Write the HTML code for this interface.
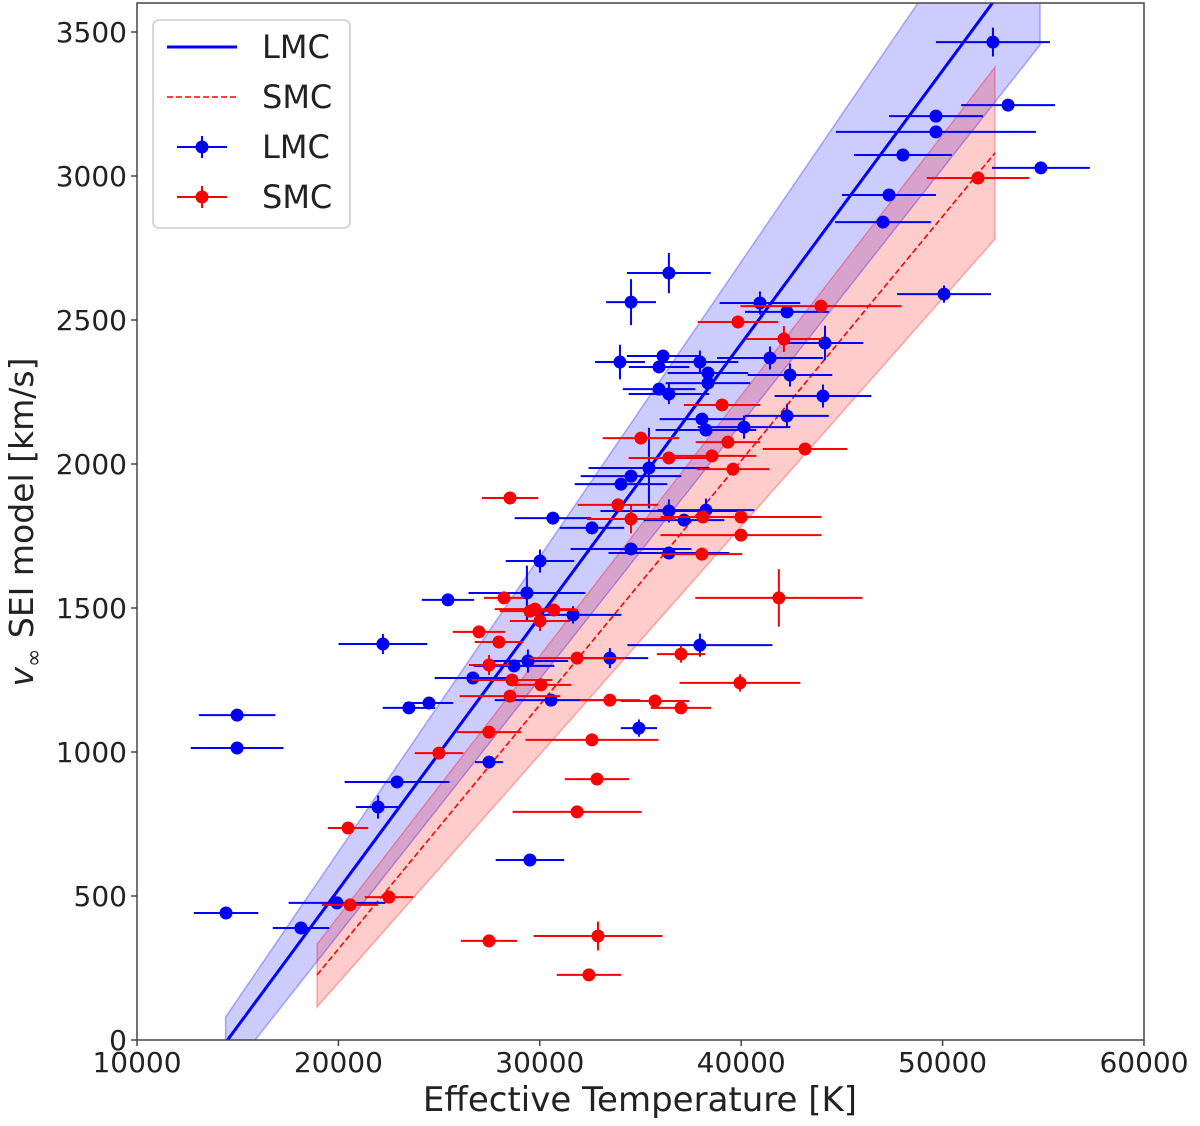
<!DOCTYPE html>
<html><head><meta charset="utf-8"><style>
body{margin:0;background:#fff;}
svg text{font-family:"DejaVu Sans","Liberation Sans",sans-serif;}
</style></head><body>
<svg id="chart" width="1200" height="1121" viewBox="0 0 1200 1121" xmlns="http://www.w3.org/2000/svg">
<defs><clipPath id="plotclip"><rect x="137" y="3" width="1007" height="1037"/></clipPath></defs>
<g id="bands" clip-path="url(#plotclip)"></g>
<g id="lines" clip-path="url(#plotclip)"></g>
<g id="points" clip-path="url(#plotclip)"></g>
<rect x="137" y="3" width="1007" height="1037" fill="none" stroke="#444" stroke-width="1.5"/>
<g id="axes"></g>
<text x="640" y="1111" font-size="34" text-anchor="middle" fill="#222">Effective Temperature [K]</text>
<text transform="translate(33,522) rotate(-90)" font-size="33" text-anchor="middle" fill="#222"><tspan font-style="italic">v</tspan><tspan font-size="22" dy="8">∞</tspan><tspan dy="-8"> SEI model [km/s]</tspan></text>
<g>
<rect x="153" y="20" width="197" height="208" rx="6" fill="#fff" fill-opacity="0.85" stroke="#ccc" stroke-width="1.5"/>
<line x1="167" y1="47" x2="237" y2="47" stroke="#0000ff" stroke-width="3"/>
<text x="262" y="58" font-size="32" fill="#222">LMC</text>
<line x1="167" y1="97" x2="237" y2="97" stroke="#ff0000" stroke-width="1.6" stroke-dasharray="6,3"/>
<text x="262" y="108" font-size="32" fill="#222">SMC</text>
<line x1="177" y1="147" x2="227" y2="147" stroke="#0000ff" stroke-width="2"/><line x1="202" y1="136" x2="202" y2="158" stroke="#0000ff" stroke-width="2"/><circle cx="202" cy="147" r="6.5" fill="#0000ff"/>
<text x="262" y="158" font-size="32" fill="#222">LMC</text>
<line x1="177" y1="197" x2="227" y2="197" stroke="#ff0000" stroke-width="2"/><line x1="202" y1="186" x2="202" y2="208" stroke="#ff0000" stroke-width="2"/><circle cx="202" cy="197" r="6.5" fill="#ff0000"/>
<text x="262" y="208" font-size="32" fill="#222">SMC</text>
</g>
</svg>
<script>
const xTicks = [10000, 20000, 30000, 40000, 50000, 60000];
const yTicks = [0, 500, 1000, 1500, 2000, 2500, 3000, 3500];
const lmcT = [52500,53250,49670,49670,48030,47340,47040,54880,50070,36410,34530,40930,42270,44160,41430,33980,36120,35920,37950,38350,38350,42420,35920,36410,44060,42270,38050,38250,40140,35420,34530,34030,36410,38250,37160,34530,36410,30010,30650,32590,29360,25440,31650,22210,33480,29410,28720,26680,30560,24500,23500,14970,14970,34920,37950,27480,22910,21970,29510,19930,14420,18140];
const lmcV = [3465,3246,3208,3153,3073,2934,2840,3028,2590,2663,2562,2559,2528,2420,2368,2354,2375,2337,2354,2316,2281,2309,2260,2243,2236,2167,2156,2118,2128,1986,1958,1930,1837,1840,1805,1705,1691,1663,1812,1778,1552,1528,1476,1375,1326,1316,1299,1257,1180,1170,1153,1128,1014,1083,1371,965,896,809,625,476,441,389];
const lmcXerr = [2830,2330,2330,4965,2430,2330,2380,2430,2330,2080,1240,2000,2080,1900,2630,1240,1800,1500,1900,2000,2100,2100,1800,2000,2400,2080,2100,2500,2300,3000,2500,2300,3400,2400,2000,3000,3000,1700,1900,1600,2900,1300,2400,2200,1900,2000,2000,1900,2800,1200,1300,1900,2300,900,3600,700,2600,1100,1700,2400,1600,1400];
const lmcYerr = [50,0,0,0,0,0,0,0,30,70,80,40,0,60,40,60,0,0,40,0,0,40,0,35,40,40,0,0,40,140,0,0,40,40,0,20,0,40,0,0,95,0,30,35,35,40,0,0,0,0,0,0,0,30,40,0,0,40,0,0,0,0];
const smcT = [51760,43960,39840,42120,39050,35020,39340,43170,36410,38550,39590,28520,33880,34530,38100,39990,39990,38050,41870,28220,29760,30700,29510,30010,26980,27970,27480,31850,37010,28620,30060,28520,39940,33480,35720,37010,27480,32590,24990,32840,31850,20480,22510,20580,27480,32890,32440];
const smcV = [2993,2548,2493,2434,2205,2090,2076,2052,2021,2028,1982,1882,1858,1809,1816,1816,1753,1687,1535,1535,1496,1493,1489,1455,1417,1382,1302,1326,1340,1250,1233,1194,1240,1180,1177,1153,1069,1042,996,906,792,736,496,469,344,361,226];
const smcXerr = [2550,4000,2000,1900,1900,1900,1600,2100,2000,2200,1800,1400,2000,2200,2000,4000,4000,2000,4150,1000,2000,1200,1500,1500,1300,1200,1000,2400,1200,2000,1500,2500,3000,1500,1700,1500,1600,3300,1200,1600,3200,1000,1200,1400,1400,3200,1600];
const smcYerr = [0,0,0,45,0,0,0,0,0,0,0,0,0,50,0,0,0,0,100,0,0,0,0,35,0,0,35,0,30,0,0,0,30,0,0,0,0,0,0,0,0,0,0,20,0,50,0];
const lmcFitT = [14400, 54840];
const lmcFitV = [-9, 3825];
const lmcUpperV = [80, 4222];
const lmcLowerV = [-130, 3455];
const smcFitT = [18940, 52600];
const smcFitV = [226, 3080];
const smcUpperV = [333, 3378];
const smcLowerV = [115, 2781];

const NS = "http://www.w3.org/2000/svg";
function sx(t){ return 137 + (t - 10000) / 50000 * 1007; }
function sy(v){ return 1040 - v / 3500 * 1008; }
function mk(tag, attrs, parent){ const e = document.createElementNS(NS, tag); for (const k in attrs) e.setAttribute(k, attrs[k]); parent.appendChild(e); return e; }

const axes = document.getElementById('axes');
xTicks.forEach(t => {
  const l = mk('line', {x1: sx(t), x2: sx(t), y1: 1040, y2: 1046, stroke: '#444', 'stroke-width': 1.5}, axes);
  
  
  const tx = mk('text', {x: sx(t), y: 1072, 'font-size': 28, 'text-anchor': 'middle', fill: '#222'}, axes);
  tx.textContent = t;
  
  
});
yTicks.forEach(v => {
  const l = mk('line', {x1: 131, x2: 137, y1: sy(v), y2: sy(v), stroke: '#444', 'stroke-width': 1.5}, axes);
  
  
  const tx = mk('text', {x: 127, y: sy(v) + 10, 'font-size': 28, 'text-anchor': 'end', fill: '#222'}, axes);
  tx.textContent = v;
  
  
});

const bands = document.getElementById('bands');
function band(T, up, lo, color, name){
  const pts = [[T[0], up[0]], [T[1], up[1]], [T[1], lo[1]], [T[0], lo[0]]].map(p => sx(p[0]) + ',' + sy(p[1])).join(' ');
  const p = mk('polygon', {points: pts, fill: color, 'fill-opacity': 0.2, stroke: color, 'stroke-opacity': 0.3, 'stroke-width': 1.5}, bands);
  
  
}
band(lmcFitT, lmcUpperV, lmcLowerV, '#0000ff', 'lmc-confidence-band');
band(smcFitT, smcUpperV, smcLowerV, '#ff0000', 'smc-confidence-band');

const lines = document.getElementById('lines');
const lf = mk('line', {x1: sx(lmcFitT[0]), y1: sy(lmcFitV[0]), x2: sx(lmcFitT[1]), y2: sy(lmcFitV[1]), stroke: '#0000ff', 'stroke-width': 3}, lines);


const sf = mk('line', {x1: sx(smcFitT[0]), y1: sy(smcFitV[0]), x2: sx(smcFitT[1]), y2: sy(smcFitV[1]), stroke: '#ff0000', 'stroke-width': 1.6, 'stroke-dasharray': '6,3'}, lines);



const pg = document.getElementById('points');
function series(T, V, XE, YE, color, name){
  for (let i = 0; i < T.length; i++){
    const g = mk('g', {}, pg);
    
    
    const x = sx(T[i]), y = sy(V[i]);
    mk('line', {x1: sx(T[i] - XE[i]), x2: sx(T[i] + XE[i]), y1: y, y2: y, stroke: color, 'stroke-width': 2}, g);
    if (YE[i] > 0) mk('line', {x1: x, x2: x, y1: sy(V[i] - YE[i]), y2: sy(V[i] + YE[i]), stroke: color, 'stroke-width': 2}, g);
    mk('circle', {cx: x, cy: y, r: 6.5, fill: color}, g);
  }
}
series(lmcT, lmcV, lmcXerr, lmcYerr, '#0000ff', 'lmc-point');
series(smcT, smcV, smcXerr, smcYerr, '#ff0000', 'smc-point');
</script>
</body></html>
